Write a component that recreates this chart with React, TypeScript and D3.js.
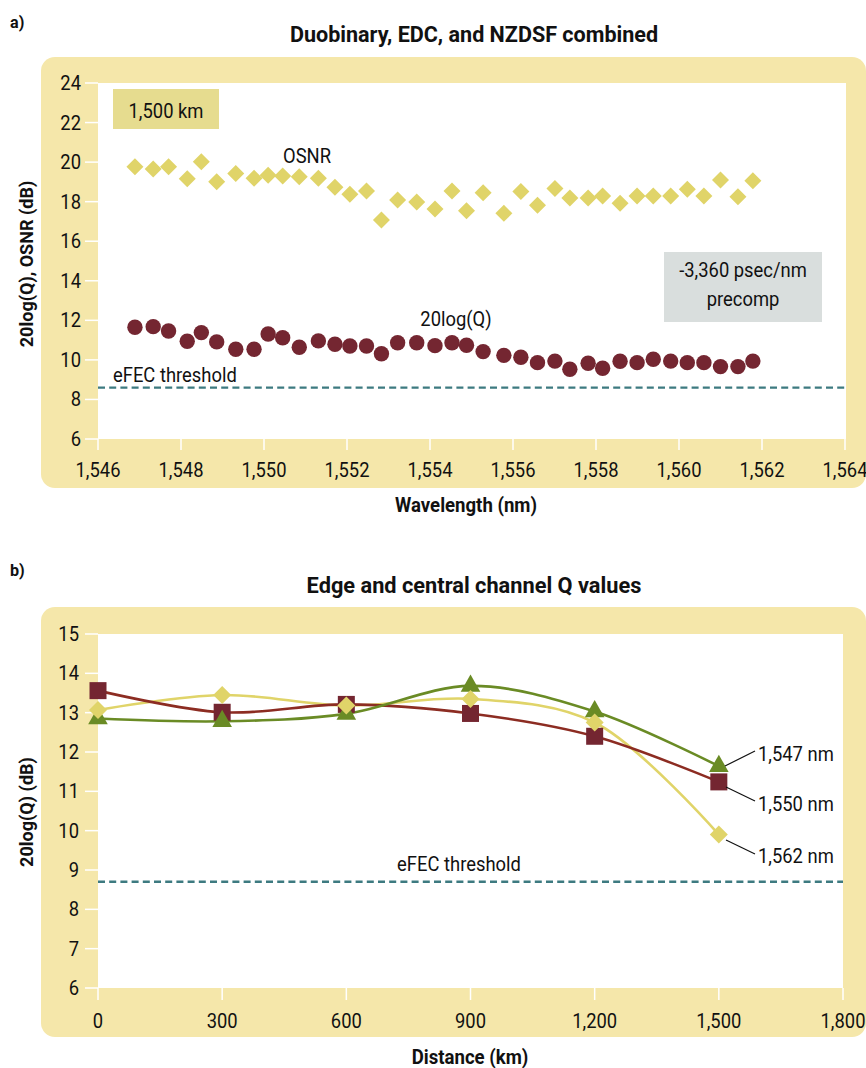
import React from "react";
import * as d3 from "d3";

// ---------- Panel a data ----------
const wavelengths = [1546.89,1547.33,1547.70,1548.15,1548.49,1548.86,1549.32,1549.76,1550.10,1550.45,1550.85,1551.31,1551.71,1552.07,1552.47,1552.83,1553.22,1553.68,1554.12,1554.53,1554.88,1555.28,1555.78,1556.19,1556.59,1557.01,1557.37,1557.81,1558.16,1558.58,1558.99,1559.38,1559.80,1560.20,1560.60,1561.00,1561.42,1561.78];
const osnrValues = [19.77,19.65,19.77,19.16,20.02,19.01,19.43,19.18,19.33,19.30,19.26,19.18,18.73,18.37,18.54,17.07,18.08,17.98,17.63,18.54,17.54,18.45,17.41,18.52,17.82,18.66,18.19,18.19,18.29,17.92,18.29,18.29,18.29,18.63,18.29,19.10,18.25,19.06];
const qValues = [11.65,11.68,11.46,10.94,11.38,10.91,10.54,10.54,11.31,11.12,10.64,10.96,10.79,10.70,10.70,10.31,10.87,10.87,10.72,10.87,10.74,10.42,10.23,10.13,9.86,9.94,9.53,9.83,9.58,9.93,9.86,10.03,9.94,9.86,9.86,9.66,9.66,9.94];
const xTicksA = [1546,1548,1550,1552,1554,1556,1558,1560,1562,1564];
const yTicksA = [6,8,10,12,14,16,18,20,22,24];
const thresholdA = 8.6;

// ---------- Panel b data ----------
const distances = [0,300,600,900,1200,1500];
const q1547 = [12.85,12.78,12.97,13.68,13.03,11.64];
const q1550 = [13.56,13.01,13.21,12.98,12.40,11.24];
const q1562 = [13.07,13.45,13.18,13.35,12.75,9.90];
const xTicksB = [0,300,600,900,1200,1500,1800];
const yTicksB = [6,7,8,9,10,11,12,13,14,15];
const thresholdB = 8.7;

const FONT = "Roboto, 'Liberation Sans', Arial, sans-serif";
const PANEL = "#f5e7aa";
const YELLOW = "#e0d469";
const MAROON = "#742631";
const MAROON_LINE = "#8c2c22";
const GREEN = "#6a8b25";
const TEAL = "#3d7a80";

const fmt = d3.format(",");

type TP = {
  x: number; y: number; anchor?: string; size?: number; weight?: string | number;
  sx?: number; rotate?: number; fill?: string; children: React.ReactNode;
};
const T = ({ x, y, anchor = "start", size = 20, weight = "normal", sx = 0.92, rotate = 0, fill = "#111", children }: TP) => (
  <text
    transform={`translate(${x},${y}) rotate(${rotate}) scale(${sx},1)`}
    textAnchor={anchor}
    fontSize={size}
    fontWeight={weight}
    fontFamily={FONT}
    fill={fill}
  >
    {children}
  </text>
);

const diamond = (r: number) => `M0,${-r}L${r},0L0,${r}L${-r},0Z`;
const triangle = "M0,-11.5L9.8,5.8L-9.8,5.8Z";

export default function App() {
  // Panel a scales
  const xA = d3.scaleLinear().domain([1546, 1564]).range([98, 845]);
  const yA = d3.scaleLinear().domain([6, 24]).range([439, 83]);
  // Panel b scales
  const xB = d3.scaleLinear().domain([0, 1800]).range([98, 843]);
  const yB = d3.scaleLinear().domain([6, 15]).range([988, 634]);

  const lineB = (vals: number[]) =>
    d3.line<number>()
      .x((_, i) => xB(distances[i]))
      .y((v) => yB(v))
      .curve(d3.curveCatmullRom.alpha(0.5))(vals) || "";

  return (
    <div>
      <style>{`body{margin:0}`}</style>
      <svg width={866} height={1068} style={{ display: "block", background: "#fff" }}>
        {/* ===== Panel a ===== */}
        <T x={10} y={28} size={17} weight="bold" sx={0.95}>a)</T>
        <T x={474} y={42} anchor="middle" size={22} weight="bold" sx={0.98}>Duobinary, EDC, and NZDSF combined</T>
        <rect x={41} y={57} width={825} height={431} rx={14} fill={PANEL} />
        <rect x={98} y={83} width={748} height={356} fill="#fff" />
        {yTicksA.map((t) => (
          <g key={`ya${t}`}>
            <line x1={85} x2={98} y1={yA(t)} y2={yA(t)} stroke="#fff" strokeWidth={1.5} />
            <T x={81} y={yA(t) + 7} anchor="end">{t}</T>
          </g>
        ))}
        {xTicksA.map((t) => (
          <g key={`xa${t}`}>
            <line x1={xA(t)} x2={xA(t)} y1={439} y2={450} stroke="#fff" strokeWidth={1.5} />
            <T x={xA(t)} y={477} anchor="middle">{fmt(t)}</T>
          </g>
        ))}
        <T x={466} y={512} anchor="middle" size={20} weight="bold" sx={0.93}>Wavelength (nm)</T>
        <T x={33} y={264} anchor="middle" size={19} weight="bold" sx={0.95} rotate={-90}>20log(Q), OSNR (dB)</T>

        <rect x={113} y={89} width={106} height={40} fill="#e6dc8f" />
        <T x={166} y={118} anchor="middle">1,500 km</T>
        <rect x={664} y={252} width={158} height={70} fill="#d9dedd" />
        <T x={743} y={277} anchor="middle">-3,360 psec/nm</T>
        <T x={743} y={306} anchor="middle">precomp</T>

        <line x1={98} x2={845} y1={yA(thresholdA)} y2={yA(thresholdA)} stroke={TEAL} strokeWidth={2.4} strokeDasharray="7,4.2" />
        <T x={113} y={382}>eFEC threshold</T>
        <T x={307} y={163} anchor="middle">OSNR</T>
        <T x={456} y={326} anchor="middle">20log(Q)</T>

        {osnrValues.map((v, i) => (
          <path key={`o${i}`} d={diamond(8.5)} transform={`translate(${xA(wavelengths[i])},${yA(v)})`} fill={YELLOW} />
        ))}
        {qValues.map((v, i) => (
          <circle key={`q${i}`} cx={xA(wavelengths[i])} cy={yA(v)} r={7.7} fill={MAROON} />
        ))}

        {/* ===== Panel b ===== */}
        <T x={10} y={576} size={17} weight="bold" sx={0.95}>b)</T>
        <T x={474} y={593} anchor="middle" size={22} weight="bold" sx={0.99}>Edge and central channel Q values</T>
        <rect x={41} y={607} width={825} height={430} rx={14} fill={PANEL} />
        <rect x={98} y={634} width={745} height={354} fill="#fff" />
        {yTicksB.map((t) => (
          <g key={`yb${t}`}>
            <line x1={85} x2={98} y1={yB(t)} y2={yB(t)} stroke="#fff" strokeWidth={1.5} />
            <T x={79} y={yB(t) + 7} anchor="end">{t}</T>
          </g>
        ))}
        {xTicksB.map((t) => (
          <g key={`xb${t}`}>
            <line x1={xB(t)} x2={xB(t)} y1={988} y2={1000} stroke="#fff" strokeWidth={1.5} />
            <T x={xB(t)} y={1028} anchor="middle">{fmt(t)}</T>
          </g>
        ))}
        <T x={470} y={1064} anchor="middle" size={20} weight="bold" sx={0.93}>Distance (km)</T>
        <T x={33} y={812} anchor="middle" size={19} weight="bold" sx={0.95} rotate={-90}>20log(Q) (dB)</T>

        <line x1={98} x2={843} y1={yB(thresholdB)} y2={yB(thresholdB)} stroke={TEAL} strokeWidth={2.4} strokeDasharray="7,4.2" />
        <T x={459} y={871} anchor="middle">eFEC threshold</T>

        <path d={lineB(q1562)} fill="none" stroke={YELLOW} strokeWidth={2.6} />
        <path d={lineB(q1550)} fill="none" stroke={MAROON_LINE} strokeWidth={2.6} />
        <path d={lineB(q1547)} fill="none" stroke={GREEN} strokeWidth={2.6} />

        {q1550.map((v, i) => (
          <rect key={`s${i}`} x={xB(distances[i]) - 8.5} y={yB(v) - 8.5} width={17} height={17} fill={MAROON} />
        ))}
        {q1547.map((v, i) => (
          <path key={`t${i}`} d={triangle} transform={`translate(${xB(distances[i])},${yB(v)})`} fill={GREEN} />
        ))}
        {q1562.map((v, i) => (
          <path key={`d${i}`} d={diamond(9)} transform={`translate(${xB(distances[i])},${yB(v)})`} fill={YELLOW} />
        ))}

        <line x1={725} y1={766} x2={755} y2={751} stroke="#111" strokeWidth={1.2} />
        <T x={758} y={761}>1,547 nm</T>
        <line x1={726} y1={787} x2={755} y2={801} stroke="#111" strokeWidth={1.2} />
        <T x={758} y={811}>1,550 nm</T>
        <line x1={726} y1={840} x2={755} y2={854} stroke="#111" strokeWidth={1.2} />
        <T x={758} y={863}>1,562 nm</T>
      </svg>
    </div>
  );
}
